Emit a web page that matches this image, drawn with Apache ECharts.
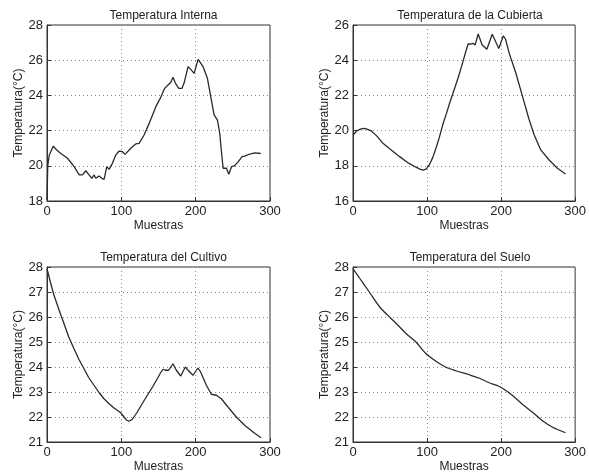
<!DOCTYPE html>
<html>
<head>
<meta charset="utf-8">
<script src="https://cdn.jsdelivr.net/npm/echarts@6/dist/echarts.min.js"></script>
<style>
    body { margin: 0; background: #fff; }
    #chart { width: 589px; height: 474px; }
</style>
</head>
<body>
<div id="chart"></div>
<script>
// titulos de cada subgrafica
var titles = ['Temperatura Interna', 'Temperatura de la Cubierta', 'Temperatura del Cultivo', 'Temperatura del Suelo']
var xTicks = [0, 100, 200, 300]

// Temperatura Interna
var muestrasInterna = [0,1,3,8.5,13,18.6,27.6,29.8,36.5,43.3,47.8,52.2,55.8,60.3,63.4,65.6,70.1,73.7,76.8,80.4,83.5,88,92.5,97,101.5,105,112.7,119.4,123.9,130.6,137.4,146.4,152,158.3,162.8,166.4,169.5,172.7,177.2,181.7,184.4,189.8,193.4,197.9,203.3,205.5,210,215.8,220.3,224.8,229.3,232.4,234.7,236.9,239.2,241.4,244.6,248.2,251.8,256.3,262.5,266.1,272.9,279.6,287.6]
var tempInterna = [18.06,20.0,20.6,21.12,20.9,20.7,20.43,20.46,19.95,19.48,19.48,19.72,19.53,19.29,19.48,19.29,19.42,19.29,19.23,19.95,19.8,20.14,20.61,20.84,20.8,20.65,21.0,21.24,21.27,21.75,22.41,23.36,23.8,24.4,24.59,24.73,25.03,24.7,24.4,24.4,24.7,25.63,25.48,25.25,26.05,26.0,25.63,24.97,23.93,22.89,22.6,21.85,20.8,19.86,19.95,19.86,19.52,19.95,19.99,20.18,20.52,20.55,20.67,20.74,20.7]

// Temperatura de la Cubierta
var muestrasCubierta = [0,5,11,16,24,32,40,50,63,75,85,91,95,99,103,107.5,112,116.5,121,126,130,136,142,148,152,155.5,158.5,162,165,169,174.5,180.8,188,196.9,203,206,211,220,229,238,244.7,253.6,264.8,276,287]
var tempCubierta = [19.75,19.98,20.1,20.13,20.0,19.7,19.3,18.95,18.52,18.15,17.92,17.8,17.76,17.82,18.05,18.45,19.0,19.6,20.3,20.95,21.5,22.25,23.0,23.85,24.45,24.92,24.92,24.96,24.87,25.49,24.86,24.62,25.47,24.67,25.39,25.19,24.39,23.26,21.93,20.6,19.75,18.9,18.33,17.86,17.53]

// Temperatura del Cultivo
var muestrasCultivo = [0,4.5,9.4,16,22.9,29,36.3,43,49.8,56,63.2,70,76.7,84,90.1,96,99.1,103.6,107,110.3,114.8,121.5,128,135,142,148.4,153,156,159.1,163.6,169.5,174,179.9,186.1,189.8,196.4,203.1,206.7,214.4,221.1,227.8,234.5,243.5,254.7,265.9,277.1,288]
var tempCultivo = [27.93,27.4,26.87,26.3,25.73,25.22,24.73,24.3,23.93,23.58,23.27,22.98,22.73,22.52,22.36,22.24,22.17,22.0,21.88,21.83,21.91,22.2,22.53,22.87,23.2,23.53,23.78,23.91,23.87,23.87,24.13,23.87,23.64,24.0,23.87,23.67,23.96,23.8,23.27,22.91,22.87,22.73,22.4,22.0,21.67,21.4,21.17]

// Temperatura del Suelo
var muestrasSuelo = [0,9,22,36,51,63,72,85,98,112,125,139,157,170,184,197,204,215,228,242,255,269,287]
var tempSuelo = [27.93,27.55,27.0,26.4,25.95,25.6,25.33,25.0,24.55,24.23,24.0,23.85,23.69,23.56,23.37,23.23,23.11,22.87,22.53,22.2,21.87,21.6,21.37]

// limites del eje y de cada subgrafica
var yMin = [18, 16, 21, 21]
var yMax = [28, 26, 28, 28]
var yStep = [2, 2, 1, 1]

var chart = echarts.init(document.getElementById('chart'))

var font = 'Liberation Sans, Arial, Helvetica, sans-serif'
var grids = [
    {left: 47, top: 25, width: 223, height: 176},
    {left: 353, top: 25, width: 224, height: 176},
    {left: 47, top: 267, width: 223, height: 175},
    {left: 353, top: 267, width: 224, height: 175}
]

function pairs(xs, ys) {
    return xs.map(function (x, i) { return [x, ys[i]] })
}
var seriesData = [
    pairs(muestrasInterna, tempInterna),
    pairs(muestrasCubierta, tempCubierta),
    pairs(muestrasCultivo, tempCultivo),
    pairs(muestrasSuelo, tempSuelo)
]

var gridLine = {show: true, lineStyle: {color: '#888', type: [1, 3], width: 1}}

chart.setOption({
    animation: false,
    backgroundColor: '#fff',
    title: grids.map(function (g, i) {
        return {
            text: titles[i],
            left: g.left + g.width / 2,
            top: g.top - 20,
            textAlign: 'center',
            textStyle: {fontFamily: font, fontSize: 12, fontWeight: 'normal', color: '#222'}
        }
    }),
    grid: grids.map(function (g) {
        return {left: g.left, top: g.top, width: g.width, height: g.height,
            show: true, borderColor: '#333', borderWidth: 1, backgroundColor: 'transparent'}
    }),
    xAxis: grids.map(function (g, i) {
        return {
            type: 'value', gridIndex: i, min: xTicks[0], max: xTicks[xTicks.length - 1], interval: 100,
            name: 'Muestras', nameLocation: 'middle', nameGap: 19,
            nameTextStyle: {fontFamily: font, fontSize: 12, color: '#222'},
            axisLine: {show: true, lineStyle: {color: '#333'}},
            axisTick: {show: true, inside: true, length: 4, lineStyle: {color: '#333'}},
            axisLabel: {fontFamily: font, fontSize: 13, color: '#222', margin: 4},
            splitLine: gridLine
        }
    }),
    yAxis: grids.map(function (g, i) {
        return {
            type: 'value', gridIndex: i, min: yMin[i], max: yMax[i], interval: yStep[i],
            name: 'Temperatura(°C)', nameLocation: 'middle', nameGap: i % 2 === 0 ? 20 : 19,
            nameTextStyle: {fontFamily: font, fontSize: 12, color: '#222'},
            axisLine: {show: true, lineStyle: {color: '#333'}},
            axisTick: {show: true, inside: true, length: 4, lineStyle: {color: '#333'}},
            axisLabel: {fontFamily: font, fontSize: 13, color: '#222', margin: 4},
            splitLine: gridLine
        }
    }),
    series: seriesData.map(function (d, i) {
        return {
            type: 'line', xAxisIndex: i, yAxisIndex: i, data: d,
            showSymbol: false, smooth: i === 3 ? 0.3 : false,
            lineStyle: {color: '#2a2a2a', width: 1.3}
        }
    })
})
</script>
</body>
</html>
